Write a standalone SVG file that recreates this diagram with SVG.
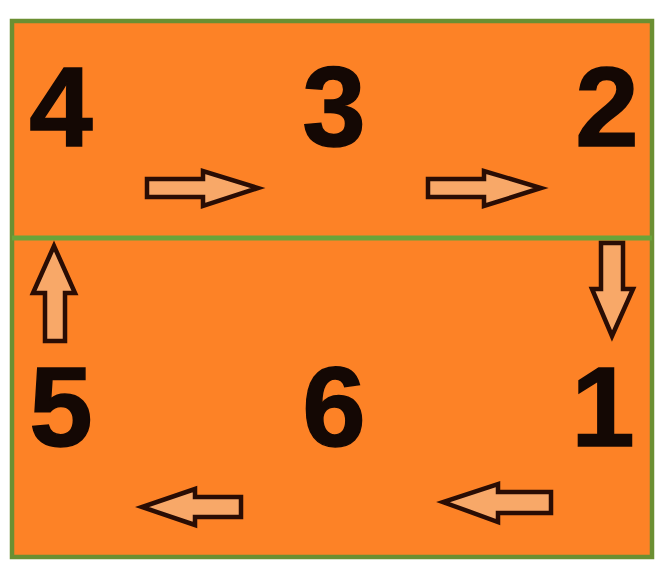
<svg xmlns="http://www.w3.org/2000/svg" width="659" height="565" viewBox="0 0 659 565">
<style>
.num{font-family:"Liberation Sans",Arial,sans-serif;font-weight:bold;font-size:114px;fill:#140804;text-anchor:middle;stroke:#140804;stroke-width:1.5}
.arr{fill:#f8a868;stroke:#2a0d04;stroke-width:4.5;stroke-linejoin:miter}
</style>
<rect width="659" height="565" fill="#ffffff"/>
<g id="board">
<rect x="12" y="21" width="640" height="536" fill="#fd8226" stroke="#6b8f32" stroke-width="4.5"/>
<line x1="12" y1="238" x2="652" y2="238" stroke="#6aa43a" stroke-width="5"/>
</g>
<g id="n4"><text class="num" x="61" y="146">4</text></g>
<g id="n3"><text class="num" x="334" y="146">3</text></g>
<g id="n2"><text class="num" x="607" y="146">2</text></g>
<g id="n5"><text class="num" x="61" y="446">5</text></g>
<g id="n6"><text class="num" x="334" y="446">6</text></g>
<g id="n1"><text class="num" x="603" y="446">1</text></g>
<g id="connectors">
<polygon class="arr" points="147,179 203,179 203,171 258,188 203,206 203,197 147,197"/>
<polygon class="arr" points="428,179 484,179 484,171 541,188 484,206 484,197 428,197"/>
<polygon class="arr" points="601,243 623,243 623,289 633,289 612,336 592,289 601,289"/>
<polygon class="arr" points="45,341 65,341 65,293 75,293 54,246 33,293 45,293"/>
<polygon class="arr" points="551,492 498,492 498,484 443,502 498,522 498,513 551,513"/>
<polygon class="arr" points="241,497 195,497 195,489 142,507 195,525 195,517 241,517"/>
</g>
</svg>
